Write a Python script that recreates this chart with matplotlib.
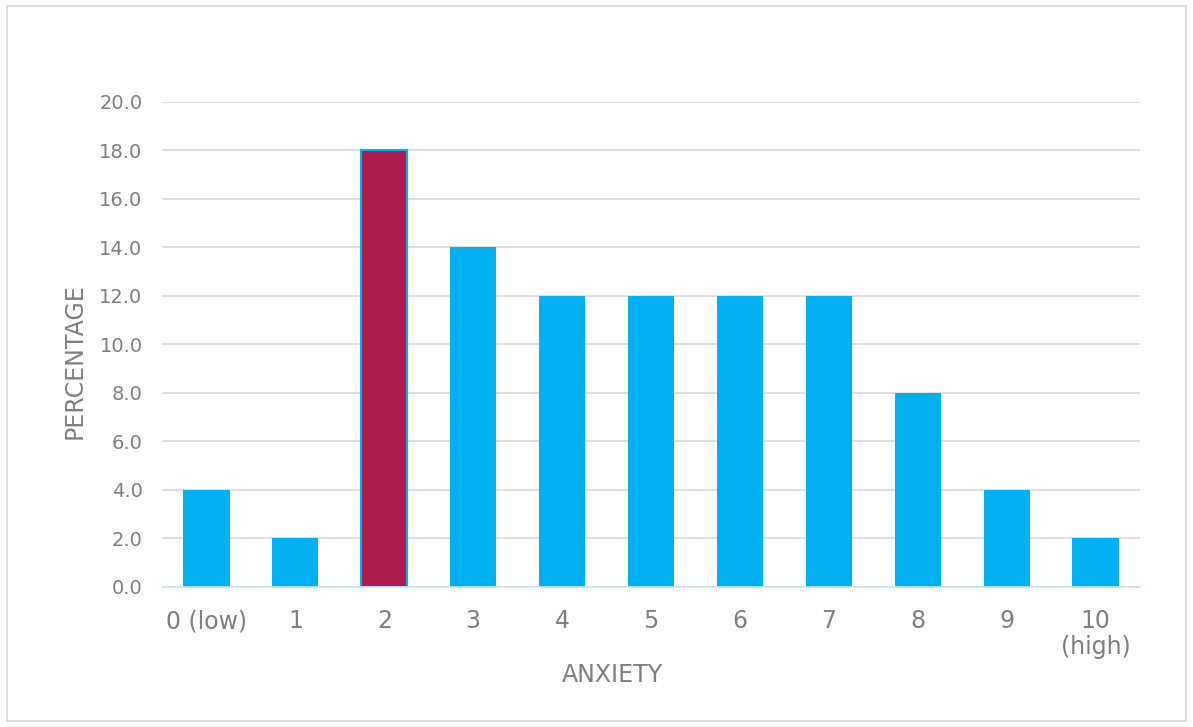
import numpy as np
import matplotlib.pyplot as plt
from matplotlib.patches import Rectangle

labels = ["0 (low)", "1", "2", "3", "4", "5", "6", "7", "8", "9", "10\n(high)"]
values = [4.0, 2.0, 18.0, 14.0, 12.0, 12.0, 12.0, 12.0, 8.0, 4.0, 2.0]
highlight = 2

blue = "#00b0f0"
crimson = "#ac1a4e"
grey_txt = "#7f7f7f"
grid_col = "#d9d9d9"

plt.rcParams['font.family'] = ['DejaVu Sans']

fig = plt.figure(figsize=(11.93, 7.27), dpi=100)
ax = fig.add_axes([0.1358, 0.1926, 0.8198, 0.6671])

x = np.arange(len(values))
colors = [crimson if i == highlight else blue for i in x]
bars = ax.bar(x, values, width=0.52, color=colors, zorder=3)
bars[highlight].set_edgecolor(blue)
bars[highlight].set_linewidth(1.5)

ax.set_xlim(-0.5, len(values) - 0.5)
ax.set_ylim(0, 20)
ax.set_yticks(np.arange(0, 21, 2))
ax.set_yticklabels([f"{v:.1f}" for v in np.arange(0, 21, 2)])
ax.set_xticks(x)
ax.set_xticklabels(labels, linespacing=1.1)

ax.grid(axis="y", color=grid_col, linewidth=1.2, zorder=0)
for s in ["top", "right", "left"]:
    ax.spines[s].set_visible(False)
ax.spines["bottom"].set_color("#c8e6f2")
ax.spines["bottom"].set_linewidth(1.2)
ax.spines["bottom"].set_zorder(4)
ax.tick_params(axis="y", length=0, colors=grey_txt, labelsize=14, pad=14)
ax.tick_params(axis="x", length=0, colors=grey_txt, labelsize=17, pad=16)

ax.set_xlabel("ANXIETY", fontsize=17, color=grey_txt)
ax.set_ylabel("PERCENTAGE", fontsize=17, color=grey_txt)
ax.xaxis.set_label_coords(612 / 1193, 52 / 727, transform=fig.transFigure)
ax.yaxis.set_label_coords(75 / 1193, 1 - 361 / 727, transform=fig.transFigure)
ax.xaxis.label.set_va("center")
ax.yaxis.label.set_va("center")

# light frame round the whole chart
fig.patches.append(Rectangle((0.006, 0.008), 0.988, 0.984, transform=fig.transFigure,
                             fill=False, edgecolor=grid_col, linewidth=1.2))

fig.savefig("out.png", dpi=100)
